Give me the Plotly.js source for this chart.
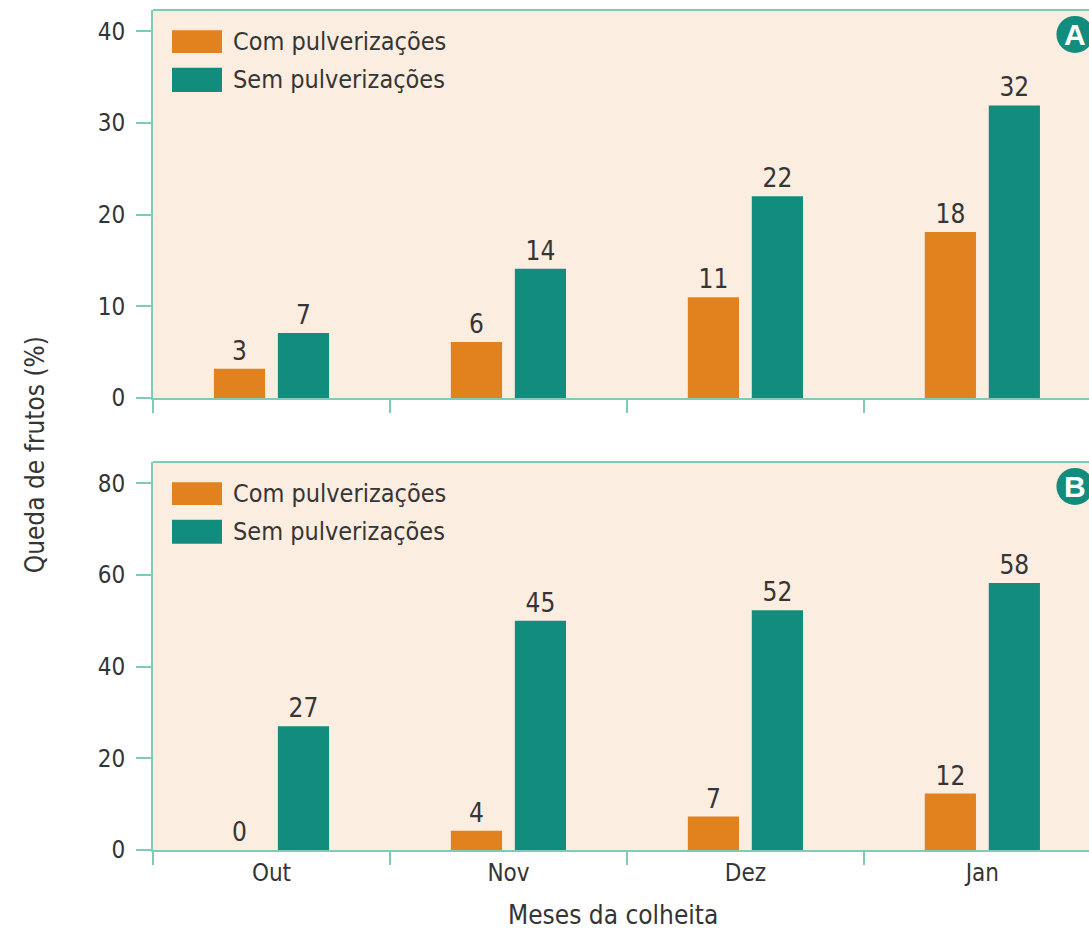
<!DOCTYPE html>
<html>
<head>
<meta charset="utf-8">
<script src="https://cdn.plot.ly/plotly-3.0.1.min.js"></script>
<style>html,body{margin:0;padding:0;background:#fff;}#chart{width:1089px;height:930px;}</style>
</head>
<body>
<div id="chart"></div>
<script>
// ---- data ----
const months = ['Out', 'Nov', 'Dez', 'Jan'];
const seriesNames = ['Com pulverizações', 'Sem pulverizações'];
const panelLetters = ['A', 'B'];
// Panel A
const comA = [3.2, 6.1, 11, 18.1];
const comALabels = ['3', '6', '11', '18'];
const semA = [7.1, 14.1, 22, 31.9];
const semALabels = ['7', '14', '22', '32'];
// Panel B
const comB = [0, 4.2, 7.3, 12.3];
const comBLabels = ['0', '4', '7', '12'];
const semB = [27, 50, 52.3, 58.2];
const semBLabels = ['27', '45', '52', '58'];
const yTicksA = [0, 10, 20, 30, 40];
const yTicksB = [0, 20, 40, 60, 80];
const xTitle = 'Meses da colheita';
const yTitle = 'Queda de frutos (%)';

// ---- style ----
const ORANGE = '#E2821E';
const TEAL = '#128D7D';
const LINE = '#7FCBB8';
const BG = '#FBEDDF';
const TXT = '#353535';
const FONT = '"Liberation Sans Narrow", "DejaVu Sans Condensed", "Roboto", sans-serif';

function barTrace(y, labels, color, xa, ya) {
  return {
    type: 'bar', x: months, y: y, text: labels, textposition: 'outside',
    textfont: {family: FONT, size: 26, color: TXT},
    cliponaxis: false, constraintext: 'none',
    marker: {color: color, line: {width: 0}},
    xaxis: xa, yaxis: ya, showlegend: false, hoverinfo: 'skip'
  };
}

const data = [
  barTrace(comA, comALabels, ORANGE, 'x', 'y'),
  barTrace(semA, semALabels, TEAL, 'x', 'y'),
  barTrace(comB, comBLabels, ORANGE, 'x2', 'y2'),
  barTrace(semB, semBLabels, TEAL, 'x2', 'y2')
];

function xAxis(anchor, showLabels) {
  return {
    type: 'category', anchor: anchor, range: [-0.5, 3.45], fixedrange: true,
    showline: true, linecolor: LINE, linewidth: 2,
    ticks: 'outside', tickson: 'boundaries', ticklen: 13, tickwidth: 2, tickcolor: LINE,
    showticklabels: showLabels, showgrid: false, zeroline: false,
    tickfont: {family: FONT, size: 24, color: TXT}
  };
}
function yAxis(anchor, domain, range, tv) {
  return {
    anchor: anchor, domain: domain, range: range, tickvals: tv, fixedrange: true,
    showline: true, linecolor: LINE, linewidth: 2,
    ticks: 'outside', ticklen: 15, tickwidth: 2, tickcolor: LINE,
    showgrid: false, zeroline: false, ticklabelstandoff: 6,
    tickfont: {family: FONT, size: 24, color: TXT}
  };
}

const shapes = [];
const annotations = [];
[['y domain', 'x'], ['y2 domain', 'x2']].forEach(([yref, xr], i) => {
  // plot background
  shapes.push({type: 'rect', xref: 'paper', yref: yref, x0: 0, x1: 1, y0: 0, y1: 1,
    fillcolor: BG, line: {width: 0}, layer: 'below'});
  // top border
  shapes.push({type: 'line', xref: 'paper', yref: yref, x0: 0, x1: 1, y0: 1, y1: 1,
    line: {color: LINE, width: 2}});
  // legend swatches
  const sw = [[ORANGE, 0.948, 0.889], [TEAL, 0.851, 0.789]];
  sw.forEach(([c, t, b], k) => {
    shapes.push({type: 'rect', xref: 'paper', yref: yref, x0: 0.0203, x1: 0.0737, y0: b, y1: t,
      fillcolor: c, line: {width: 0}});
    annotations.push({xref: 'paper', yref: yref, x: 0.083, y: (t + b) / 2, xanchor: 'left', yanchor: 'middle',
      text: seriesNames[k], showarrow: false, font: {family: FONT, size: 25, color: TXT}});
  });
  // letter badge
  shapes.push({type: 'circle', xref: 'paper', yref: yref, x0: 0.985 - 0.0198, x1: 0.985 + 0.0198,
    y0: 0.937 - 0.0477, y1: 0.937 + 0.0477, fillcolor: TEAL, line: {width: 0}});
  annotations.push({xref: 'paper', yref: yref, x: 0.985, y: 0.937, xanchor: 'center', yanchor: 'middle',
    text: '<b>' + panelLetters[i] + '</b>', showarrow: false,
    font: {family: '"Liberation Sans", Arial, sans-serif', size: 30, color: '#fff'}});
});

annotations.push({xref: 'paper', yref: 'paper', x: 0.491, y: -0.077, xanchor: 'center', yanchor: 'middle',
  text: xTitle, showarrow: false, font: {family: FONT, size: 26, color: TXT}});
annotations.push({xref: 'paper', yref: 'paper', x: -0.126, y: 0.47, xanchor: 'center', yanchor: 'middle',
  text: yTitle, textangle: -90, showarrow: false, font: {family: FONT, size: 26, color: TXT}});

const layout = {
  width: 1089, height: 930,
  margin: {l: 153, r: 0, t: 10, b: 80},
  paper_bgcolor: '#fff', plot_bgcolor: 'rgba(0,0,0,0)',
  barmode: 'group', bargap: 0.46, bargroupgap: 0.2,
  showlegend: false,
  xaxis: xAxis('y', false),
  yaxis: yAxis('x', [0.538, 1], [0, 42.3], yTicksA),
  xaxis2: xAxis('y2', true),
  yaxis2: yAxis('x2', [0, 0.4619], [0, 84.6], yTicksB),
  shapes: shapes, annotations: annotations,
  font: {family: FONT, color: TXT}
};

Plotly.newPlot('chart', data, layout, {displayModeBar: false, staticPlot: true});
</script>
</body>
</html>
